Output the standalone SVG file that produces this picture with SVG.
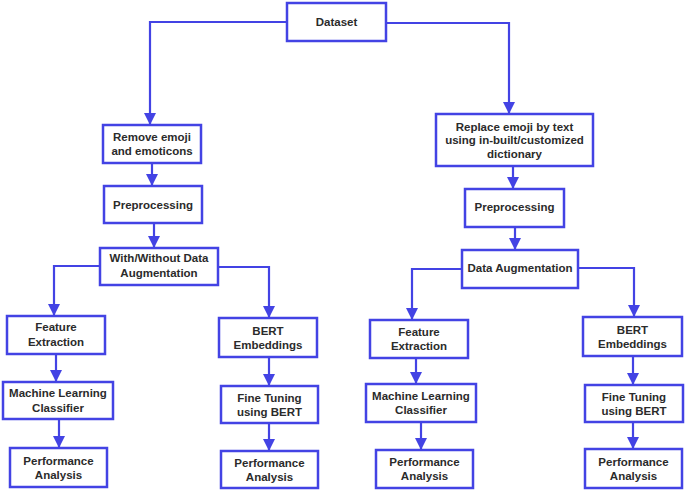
<svg xmlns="http://www.w3.org/2000/svg" width="685" height="491" viewBox="0 0 685 491">
<defs>
<style>
.box{fill:#ffffff;stroke:#4343e4;stroke-width:2.5}
.lbl{font-family:"Liberation Sans",Arial,sans-serif;font-size:11.5px;font-weight:bold;fill:#2b2b2b;text-anchor:middle}
.edge{fill:none;stroke:#4343e4;stroke-width:2.2;marker-end:url(#ah)}
</style>
<marker id="ah" markerUnits="userSpaceOnUse" markerWidth="12" markerHeight="12" viewBox="0 0 12 12" refX="12" refY="6" orient="auto">
<path d="M0,0 L12,6 L0,12 z" fill="#4343e4"/>
</marker>
</defs>
<rect width="685" height="491" fill="#ffffff"/>
<g id="connectors">
<polyline class="edge" points="287,22 150,22 150,125"/>
<polyline class="edge" points="386,23 509,23 509,114"/>
<polyline class="edge" points="152,163 152,186"/>
<polyline class="edge" points="154,223 154,248"/>
<polyline class="edge" points="100,266 54,266 54,316"/>
<polyline class="edge" points="218,267 269,267 269,318"/>
<polyline class="edge" points="56,354 56,382"/>
<polyline class="edge" points="59,419 59,448"/>
<polyline class="edge" points="269,357 269,386"/>
<polyline class="edge" points="269,423 269,451"/>
<polyline class="edge" points="513,166 513,189"/>
<polyline class="edge" points="515,227 515,250"/>
<polyline class="edge" points="462,269 412,269 412,320"/>
<polyline class="edge" points="578,268 634,268 634,317"/>
<polyline class="edge" points="416,358 416,384"/>
<polyline class="edge" points="421,422 421,450"/>
<polyline class="edge" points="633,356 633,385"/>
<polyline class="edge" points="633,422 633,449"/>
</g>
<g id="dataset"><rect class="box" x="287" y="3" width="99" height="38"/><text class="lbl" x="336.5" y="26">Dataset</text></g>
<g id="remove"><rect class="box" x="103" y="125" width="98" height="38"/><text class="lbl" x="152" y="141">Remove emoji</text><text class="lbl" x="152" y="155">and emoticons</text></g>
<g id="prepL"><rect class="box" x="104" y="186" width="98" height="37"/><text class="lbl" x="153" y="209">Preprocessing</text></g>
<g id="withwithout"><rect class="box" x="100" y="248" width="118" height="37"/><text class="lbl" x="159" y="262">With/Without Data</text><text class="lbl" x="159" y="277">Augmentation</text></g>
<g id="feL"><rect class="box" x="7" y="316" width="98" height="38"/><text class="lbl" x="56" y="331">Feature</text><text class="lbl" x="56" y="346">Extraction</text></g>
<g id="mlL"><rect class="box" x="3" y="382" width="110" height="37"/><text class="lbl" x="58" y="397">Machine Learning</text><text class="lbl" x="58" y="412">Classifier</text></g>
<g id="paL"><rect class="box" x="10" y="448" width="97" height="39"/><text class="lbl" x="58.5" y="465">Performance</text><text class="lbl" x="58.5" y="479">Analysis</text></g>
<g id="bertL"><rect class="box" x="219" y="318" width="98" height="39"/><text class="lbl" x="268" y="335">BERT</text><text class="lbl" x="268" y="349">Embeddings</text></g>
<g id="ftL"><rect class="box" x="221" y="386" width="97" height="37"/><text class="lbl" x="269.5" y="402">Fine Tuning</text><text class="lbl" x="269.5" y="416">using  BERT</text></g>
<g id="paL2"><rect class="box" x="221" y="451" width="97" height="37"/><text class="lbl" x="269.5" y="467">Performance</text><text class="lbl" x="269.5" y="481">Analysis</text></g>
<g id="replace"><rect class="box" x="436" y="114" width="157" height="52"/><text class="lbl" x="514.5" y="131">Replace emoji by text</text><text class="lbl" x="514.5" y="144">using in-built/customized</text><text class="lbl" x="514.5" y="158">dictionary</text></g>
<g id="prepR"><rect class="box" x="465" y="189" width="99" height="38"/><text class="lbl" x="514.5" y="211">Preprocessing</text></g>
<g id="dataaug"><rect class="box" x="462" y="250" width="116" height="38"/><text class="lbl" x="520" y="272">Data Augmentation</text></g>
<g id="feR"><rect class="box" x="370" y="320" width="98" height="38"/><text class="lbl" x="419" y="336">Feature</text><text class="lbl" x="419" y="350">Extraction</text></g>
<g id="mlR"><rect class="box" x="366" y="384" width="110" height="38"/><text class="lbl" x="421" y="400">Machine Learning</text><text class="lbl" x="421" y="414">Classifier</text></g>
<g id="paR"><rect class="box" x="376" y="450" width="97" height="38"/><text class="lbl" x="424.5" y="466">Performance</text><text class="lbl" x="424.5" y="480">Analysis</text></g>
<g id="bertR"><rect class="box" x="583" y="317" width="99" height="39"/><text class="lbl" x="632.5" y="334">BERT</text><text class="lbl" x="632.5" y="348">Embeddings</text></g>
<g id="ftR"><rect class="box" x="585" y="385" width="98" height="37"/><text class="lbl" x="634" y="401">Fine Tuning</text><text class="lbl" x="634" y="415">using  BERT</text></g>
<g id="paR2"><rect class="box" x="585" y="449" width="97" height="39"/><text class="lbl" x="633.5" y="466">Performance</text><text class="lbl" x="633.5" y="480">Analysis</text></g>
</svg>
